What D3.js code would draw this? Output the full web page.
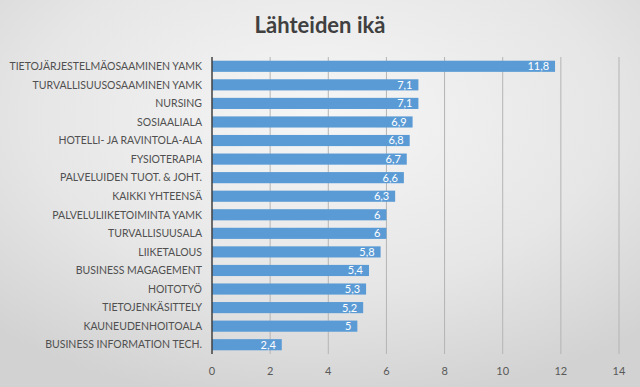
<!DOCTYPE html>
<html>
<head>
<meta charset="utf-8">
<script src="https://cdn.jsdelivr.net/npm/d3@7"></script>
<style>
  html, body { margin: 0; padding: 0; }
  body { width: 640px; height: 387px; overflow: hidden; }
</style>
</head>
<body>
<div id="chart"></div>
<script>
// data
const categories = [
  "TIETOJÄRJESTELMÄOSAAMINEN YAMK",
  "TURVALLISUUSOSAAMINEN YAMK",
  "NURSING",
  "SOSIAALIALA",
  "HOTELLI- JA RAVINTOLA-ALA",
  "FYSIOTERAPIA",
  "PALVELUIDEN TUOT. & JOHT.",
  "KAIKKI YHTEENSÄ",
  "PALVELULIIKETOIMINTA YAMK",
  "TURVALLISUUSALA",
  "LIIKETALOUS",
  "BUSINESS MAGAGEMENT",
  "HOITOTYÖ",
  "TIETOJENKÄSITTELY",
  "KAUNEUDENHOITOALA",
  "BUSINESS INFORMATION TECH."
];
const values = [11.8, 7.1, 7.1, 6.9, 6.8, 6.7, 6.6, 6.3, 6, 6, 5.8, 5.4, 5.3, 5.2, 5, 2.4];
const xTicks = [0, 2, 4, 6, 8, 10, 12, 14];

const W = 640, H = 387;
const margin = {top: 57, left: 212, right: 21, bottom: 33};
const width = W - margin.left - margin.right;
const height = H - margin.top - margin.bottom;

const svg = d3.select("#chart").append("svg")
  .attr("width", W).attr("height", H);

// background
const defs = svg.append("defs");
const grad = defs.append("radialGradient")
  .attr("id", "bg").attr("cx", "50%").attr("cy", "30%").attr("r", "75%");
grad.append("stop").attr("offset", "0%").attr("stop-color", "#f6f6f6");
grad.append("stop").attr("offset", "60%").attr("stop-color", "#e6e6e6");
grad.append("stop").attr("offset", "100%").attr("stop-color", "#d2d2d2");
svg.append("rect").attr("width", W).attr("height", H).attr("fill", "url(#bg)");

svg.append("text")
  .attr("x", W / 2).attr("y", 33)
  .attr("text-anchor", "middle")
  .style("font-family", "Lato, 'Open Sans', sans-serif")
  .style("font-weight", "bold")
  .style("font-size", "22px")
  .attr("fill", "#404040")
  .text("Lähteiden ikä");

const g = svg.append("g").attr("transform", `translate(${margin.left},${margin.top})`);

const x = d3.scaleLinear().domain([0, 14]).range([0, width]);
const y = d3.scaleBand().domain(categories).range([0, height]).paddingInner(0.4).paddingOuter(0.2);

// gridlines
g.selectAll(".grid").data(xTicks.slice(1)).join("line")
  .attr("x1", d => x(d)).attr("x2", d => x(d))
  .attr("y1", 0).attr("y2", height)
  .attr("stroke", "#b4b4b4").attr("stroke-width", 1);

// bars
g.selectAll(".bar").data(values).join("rect")
  .attr("x", 0)
  .attr("y", (d, i) => y(categories[i]))
  .attr("width", d => x(d))
  .attr("height", y.bandwidth())
  .attr("fill", "#5b9bd5");

// value labels
g.selectAll(".val").data(values).join("text")
  .attr("x", d => x(d) - 6)
  .attr("y", (d, i) => y(categories[i]) + y.bandwidth() / 2)
  .attr("dy", "0.36em")
  .attr("text-anchor", "end")
  .style("font-family", "Lato, 'Open Sans', sans-serif")
  .style("font-size", "11px")
  .attr("fill", "#ffffff")
  .text(d => String(d).replace(".", ","));

// y axis line
g.append("line")
  .attr("x1", 0).attr("x2", 0).attr("y1", 0).attr("y2", height)
  .attr("stroke", "#404040").attr("stroke-width", 1.5);

// category labels
g.selectAll(".cat").data(categories).join("text")
  .attr("x", -10)
  .attr("y", d => y(d) + y.bandwidth() / 2)
  .attr("dy", "0.36em")
  .attr("text-anchor", "end")
  .style("font-family", "Lato, 'Open Sans', sans-serif")
  .style("font-size", "10.5px")
  .attr("fill", "#505050")
  .text(d => d);

// x tick labels
g.selectAll(".xt").data(xTicks).join("text")
  .attr("x", d => x(d))
  .attr("y", height + 17)
  .attr("dy", "0.36em")
  .attr("text-anchor", "middle")
  .style("font-family", "Lato, 'Open Sans', sans-serif")
  .style("font-size", "11px")
  .attr("fill", "#595959")
  .text(d => d);
</script>
</body>
</html>
